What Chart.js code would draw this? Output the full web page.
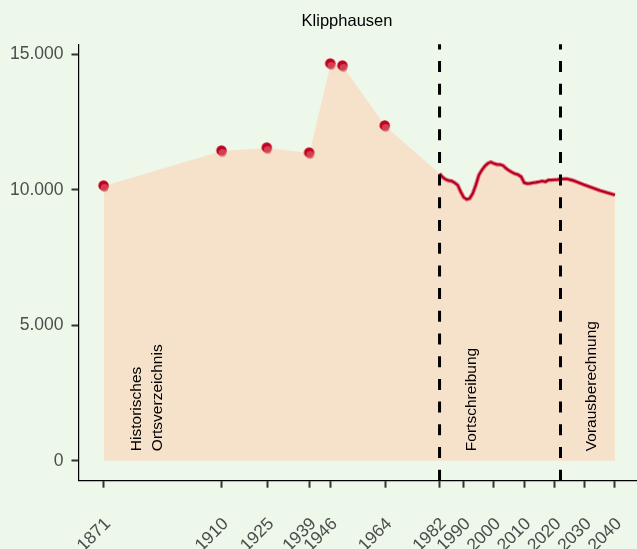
<!DOCTYPE html>
<html lang="de">
<head>
    <meta charset="UTF-8">
    <title>Klipphausen</title>
    <style>
        html, body { margin: 0; padding: 0; background: #edf7ea; }
        .chart-box { width: 637px; height: 549px; position: relative; }
    </style>
</head>
<body>
    <div class="chart-box">
        <canvas id="chart"></canvas>
    </div>
    <script src="https://cdn.jsdelivr.net/npm/chart.js"></script>
    <script>
    // Historische Werte (Ortsverzeichnis)
    var histYears = [1871, 1910, 1925, 1939, 1946, 1950, 1964];
    var histValues = [10139, 11431, 11542, 11357, 14642, 14568, 12354];

    // Fortschreibung 1982 - 2022
    var fortYears = [1982, 1983, 1984, 1985, 1986, 1987, 1988, 1989, 1990, 1991,
        1992, 1993, 1994, 1995, 1996, 1997, 1998, 1999, 2000, 2001,
        2002, 2003, 2004, 2005, 2006, 2007, 2008, 2009, 2010, 2011,
        2012, 2013, 2014, 2015, 2016, 2017, 2018, 2019, 2020, 2021, 2022];
    var fortValues = [10600, 10470, 10386, 10342, 10324, 10261, 10176, 9929, 9722, 9648,
        9685, 9870, 10176, 10545, 10730, 10877, 10977, 11025, 10970, 10933,
        10933, 10896, 10792, 10711, 10645, 10590, 10556, 10482, 10261, 10232,
        10239, 10261, 10276, 10298, 10324, 10298, 10361, 10361, 10372, 10379, 10398];

    // Vorausberechnung
    var progYears = [2022, 2024, 2026, 2030, 2035, 2040];
    var progValues = [10398, 10410, 10350, 10176, 9973, 9807];

    // Achsenbeschriftung
    var xTickYears = [1871, 1910, 1925, 1939, 1946, 1964, 1982, 1990, 2000, 2010, 2020, 2030, 2040];
    var yTickValues = [0, 5000, 10000, 15000];
    var breakYears = [1982, 2022];

    function toXY(xs, ys) {
        return xs.map(function (x, i) { return { x: x, y: ys[i] }; });
    }

    // Punkt mit hellerem Versatz
    function dotImage() {
        var c = document.createElement('canvas');
        c.width = 14; c.height = 14;
        var g = c.getContext('2d');
        g.fillStyle = '#c2001f';
        g.beginPath(); g.arc(6.6, 6.4, 5.2, 0, 2 * Math.PI); g.fill();
        g.fillStyle = 'rgba(216, 90, 102, 0.72)';
        g.beginPath(); g.arc(7.6, 8.8, 3.9, 0, 2 * Math.PI); g.fill();
        return c;
    }

    var areaData = toXY(histYears, histValues)
        .concat(toXY(fortYears, fortValues))
        .concat(toXY(progYears.slice(1), progValues.slice(1)));
    var lineData = toXY(fortYears, fortValues).concat(toXY(progYears.slice(1), progValues.slice(1)));

    var FONT = '"Liberation Sans", Arial, sans-serif';

    var overlayPlugin = {
        id: 'overlay',
        afterDatasetsDraw: function (chart) {
            var ctx = chart.ctx, a = chart.chartArea;
            var xs = chart.scales.x, ys = chart.scales.y;
            ctx.save();
            // Strichlinien
            ctx.strokeStyle = '#000';
            ctx.lineWidth = 3;
            ctx.setLineDash([11, 11.7]);
            breakYears.forEach(function (yr) {
                var px = xs.getPixelForValue(yr);
                ctx.beginPath();
                ctx.moveTo(px, a.bottom);
                ctx.lineTo(px, a.top);
                ctx.stroke();
            });
            ctx.setLineDash([]);
            // Beschriftungen
            ctx.fillStyle = '#000';
            ctx.font = '15.5px ' + FONT;
            ctx.textAlign = 'left';
            ctx.textBaseline = 'middle';
            var notes = [
                ['Historisches', 1881.7],
                ['Ortsverzeichnis', 1888.7],
                ['Fortschreibung', 1992.5],
                ['Vorausberechnung', 2032.4]
            ];
            var yStart = ys.getPixelForValue(358);
            notes.forEach(function (n) {
                ctx.save();
                ctx.translate(xs.getPixelForValue(n[1]), yStart);
                ctx.rotate(-Math.PI / 2);
                ctx.fillText(n[0], 0, 0);
                ctx.restore();
            });
            // Titel
            ctx.font = '16.5px ' + FONT;
            ctx.textAlign = 'center';
            ctx.textBaseline = 'alphabetic';
            ctx.fillText('Klipphausen', 347, 25.7);
            ctx.restore();
        }
    };

    new Chart(document.getElementById('chart').getContext('2d'), {
        type: 'line',
        data: {
            datasets: [
                {
                    data: areaData,
                    fill: { target: { value: 0 } },
                    backgroundColor: '#f6e2cb',
                    borderWidth: 0,
                    pointRadius: 0,
                    tension: 0,
                    order: 4
                },
                {
                    data: lineData,
                    borderColor: '#e07684',
                    borderWidth: 4.2,
                    pointRadius: 0,
                    fill: false,
                    order: 3
                },
                {
                    data: lineData,
                    borderColor: '#b5001d',
                    borderWidth: 2.1,
                    pointRadius: 0,
                    fill: false,
                    order: 2
                },
                {
                    data: toXY(histYears, histValues),
                    showLine: false,
                    pointStyle: dotImage(),
                    pointRadius: 6,
                    fill: false,
                    order: 1
                }
            ]
        },
        options: {
            responsive: true,
            maintainAspectRatio: false,
            animation: false,
            layout: { autoPadding: false, padding: { top: 44.3, left: 0, right: 0, bottom: 0 } },
            plugins: {
                legend: { display: false },
                title: { display: false },
                tooltip: { enabled: false }
            },
            scales: {
                x: {
                    type: 'linear',
                    min: 1862.6,
                    max: 2047.3,
                    afterBuildTicks: function (scale) {
                        scale.ticks = xTickYears.map(function (v) { return { value: v }; });
                    },
                    afterFit: function (scale) {
                        scale.height = 68.3;
                        scale.paddingLeft = 0;
                        scale.paddingRight = 0;
                    },
                    ticks: {
                        autoSkip: false,
                        minRotation: 45,
                        maxRotation: 45,
                        padding: 26,
                        labelOffset: 4,
                        color: '#4d4d4d',
                        font: { family: FONT, size: 17.5 },
                        callback: function (v) { return String(v); }
                    },
                    grid: { drawOnChartArea: false, drawTicks: true, tickLength: 7, tickColor: '#333', tickWidth: 2 },
                    border: { display: true, color: '#000', width: 1.2 }
                },
                y: {
                    type: 'linear',
                    min: -732,
                    max: 15371,
                    afterBuildTicks: function (scale) {
                        scale.ticks = yTickValues.map(function (v) { return { value: v }; });
                    },
                    afterFit: function (scale) {
                        scale.width = 78.5;
                    },
                    ticks: {
                        padding: 8,
                        color: '#4d4d4d',
                        font: { family: FONT, size: 17.5 },
                        callback: function (v) { return v.toLocaleString('de-DE'); }
                    },
                    grid: { drawOnChartArea: false, drawTicks: true, tickLength: 7, tickColor: '#333', tickWidth: 2 },
                    border: { display: true, color: '#000', width: 1.2 }
                }
            }
        },
        plugins: [overlayPlugin]
    });
    </script>
</body>
</html>
